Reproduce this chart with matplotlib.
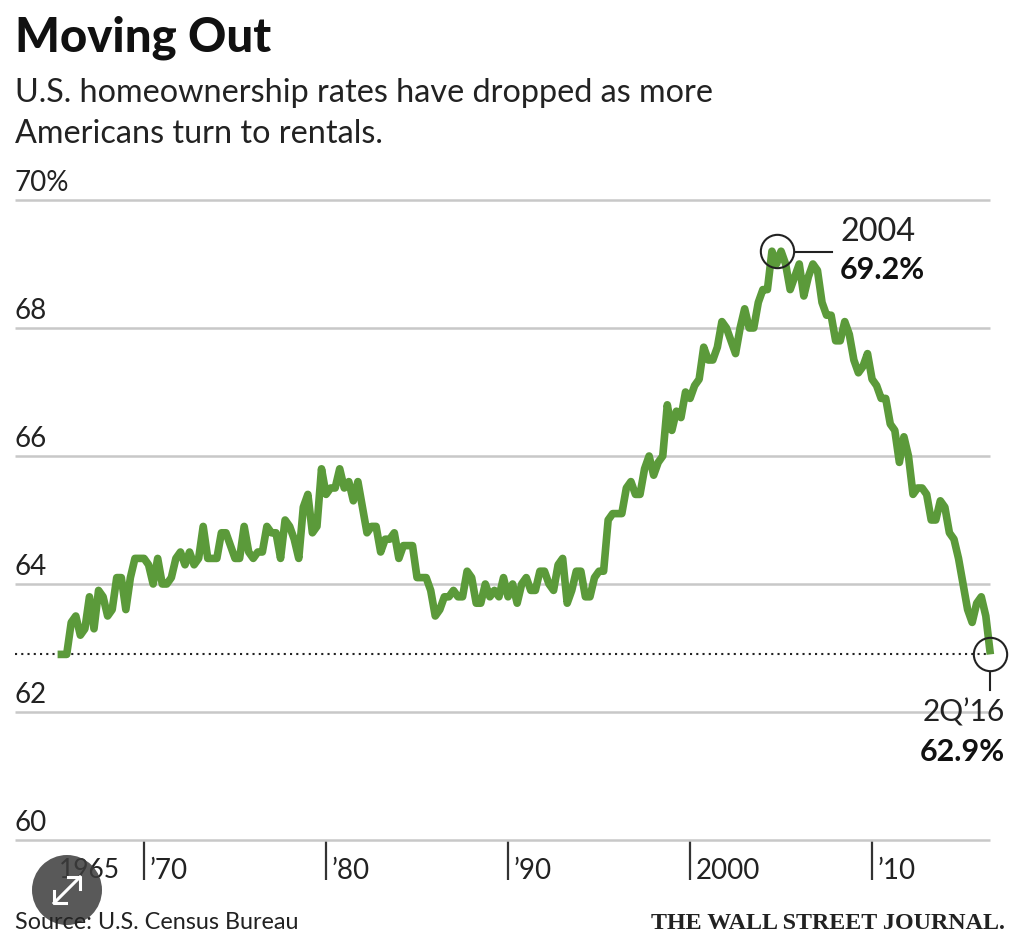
import numpy as np
import matplotlib
matplotlib.use('Agg')
import matplotlib.pyplot as plt
from matplotlib.patches import Circle

# quarterly homeownership rate
first_year = 1965.25
rates = [
    62.9, 62.9, 62.9, 63.4, 63.5, 63.2, 63.3, 63.8, 63.3, 63.9, 63.8, 63.5,
    63.6, 64.1, 64.1, 63.6, 64.1, 64.4, 64.4, 64.4, 64.3, 64.0, 64.4, 64.0,
    64.0, 64.1, 64.4, 64.5, 64.3, 64.5, 64.3, 64.4, 64.9, 64.4, 64.4, 64.4,
    64.8, 64.8, 64.6, 64.4, 64.4, 64.9, 64.5, 64.4, 64.5, 64.5, 64.9, 64.8,
    64.8, 64.4, 65.0, 64.9, 64.7, 64.4, 65.2, 65.4, 64.8, 64.9, 65.8, 65.4,
    65.5, 65.5, 65.8, 65.5, 65.6, 65.3, 65.6, 65.2, 64.8,
    64.9, 64.9, 64.5, 64.7, 64.7, 64.8, 64.4, 64.6, 64.6, 64.6, 64.1, 64.1,
    64.1, 63.9, 63.5, 63.6, 63.8, 63.8, 63.9, 63.8, 63.8, 64.2, 64.1, 63.7,
    63.7, 64.0, 63.8, 63.9, 63.8, 64.1, 63.8, 64.0, 63.7, 64.0, 64.1, 63.9,
    63.9, 64.2, 64.2, 64.0, 63.9, 64.3, 64.4, 63.7, 63.9, 64.2, 64.2, 63.8,
    63.8, 64.1, 64.2, 64.2, 65.0, 65.1, 65.1, 65.1, 65.5, 65.6, 65.4, 65.4,
    65.8, 66.0, 65.7, 65.9, 66.0,
    66.8, 66.4, 66.7, 66.6, 67.0, 66.9, 67.1, 67.2, 67.7, 67.5, 67.5, 67.7,
    68.1, 68.0, 67.8, 67.6, 68.0, 68.3, 68.0, 68.0, 68.4, 68.6, 68.6, 69.2,
    69.0, 69.2, 69.0, 68.6, 68.8, 69.0, 68.5, 68.8, 69.0, 68.9, 68.4, 68.2,
    68.2, 67.8, 67.8, 68.1, 67.9, 67.5, 67.3, 67.4, 67.6, 67.2, 67.1, 66.9,
    66.9, 66.5, 66.4, 65.9, 66.3, 66.0, 65.4, 65.5, 65.5, 65.4,
    65.0, 65.0, 65.3, 65.2, 64.8, 64.7, 64.4, 64.0, 63.6, 63.4, 63.7, 63.8,
    63.5, 62.9,
]
y_ticks = [60, 62, 64, 66, 68, 70]
y_labels = ['60', '62', '64', '66', '68', '70%']
x_ticks = [1970, 1980, 1990, 2000, 2010]
x_labels = ['\u201970', '\u201980', '\u201990', '2000', '\u201910']

years = first_year + np.arange(len(rates)) * 0.25
peak = rates.index(max(rates))

W, H = 1024, 939
green = '#5b9a3a'
ink = '#222222'
plt.rcParams['font.family'] = ['Lato', 'DejaVu Sans']

fig = plt.figure(figsize=(W / 100, H / 100), dpi=100)
ax = fig.add_axes([15 / W, 1 - 840 / H, 975 / W, 640 / H])
ax.set_xlim(1962.91, 2016.48)
ax.set_ylim(60, 70)
for s in ax.spines.values():
    s.set_visible(False)
ax.set_yticks(y_ticks)
ax.set_yticklabels([])
ax.tick_params(axis='y', length=0)
ax.grid(axis='y', color='#c8c8c8', lw=1.8, zorder=1, clip_on=False, solid_capstyle='butt')
ax.set_xticks(x_ticks)
ax.set_xticklabels([])
ax.tick_params(axis='x', length=29, width=1.6, color='#333333')
ax.set_axisbelow(True)

for v, lab in zip(y_ticks, y_labels):
    ax.annotate(lab, (0, v), xycoords=('axes fraction', 'data'), xytext=(0, 3),
                textcoords='offset points', fontsize=20, color=ink, va='bottom')
for v, lab in zip(x_ticks, x_labels):
    ax.annotate(lab, (v, 60), xytext=(4, -22), textcoords='offset points',
                fontsize=20, color=ink, va='center', annotation_clip=False)
ax.annotate('1965', (1965.25, 60), xytext=(1, -22), textcoords='offset points',
            fontsize=19, color=ink, va='center', annotation_clip=False)

# dotted reference line at the latest value
ax.axhline(rates[-1], color='#222222', lw=1.5, ls=(0, (1, 2)), zorder=2)
ax.plot(years, rates, color=green, lw=5.5, solid_joinstyle='round', solid_capstyle='butt',
        zorder=3, clip_on=False)

# circles on the peak and last point
ax.plot(years[peak] + 0.25, rates[peak], 'o', ms=24, mfc='none', mec='#222222', mew=1.5, zorder=4)
ax.plot(years[-1], rates[-1], 'o', ms=24, mfc='none', mec='#222222', mew=1.5, zorder=4, clip_on=False)

# overlay in pixel coordinates for page text and the expand button
ov = fig.add_axes([0, 0, 1, 1], facecolor='none')
ov.set_xlim(0, W)
ov.set_ylim(H, 0)
ov.axis('off')

ov.text(15, 51, 'Moving Out', fontsize=34, fontweight='black', color='#111111')
ov.text(15, 102, 'U.S. homeownership rates have dropped as more', fontsize=23.3, color=ink)
ov.text(15, 143, 'Americans turn to rentals.', fontsize=23.3, color=ink)

ov.plot([795, 832], [252, 252], color='#222222', lw=1.5)
ov.text(840, 241, '2004', fontsize=23.3, color=ink)
ov.text(840, 279, '69.2%', fontsize=22, fontweight='bold', color='#111111')
ov.plot([990, 990], [672, 690], color='#222222', lw=1.5)
ov.text(1005, 722, '2Q\u201916', fontsize=21.5, color=ink, ha='right')
ov.text(1005, 761, '62.9%', fontsize=22, fontweight='bold', color='#111111', ha='right')

ov.text(15, 929, 'Source: U.S. Census Bureau', fontsize=16.8, color=ink)
ov.text(1005, 929, 'THE WALL STREET JOURNAL.', fontsize=17.3, fontweight='bold', family='Liberation Serif',
        color='#222222', ha='right')

ov.add_patch(Circle((67, 890), 35, color='#3c3c3c', alpha=0.85, lw=0))
ov.plot([54, 80], [903, 877], color='white', lw=2.2)
ov.plot([54, 54, 66], [891, 903, 903], color='white', lw=2.2)
ov.plot([68, 80, 80], [877, 877, 889], color='white', lw=2.2)

fig.savefig('out.png', dpi=100)
